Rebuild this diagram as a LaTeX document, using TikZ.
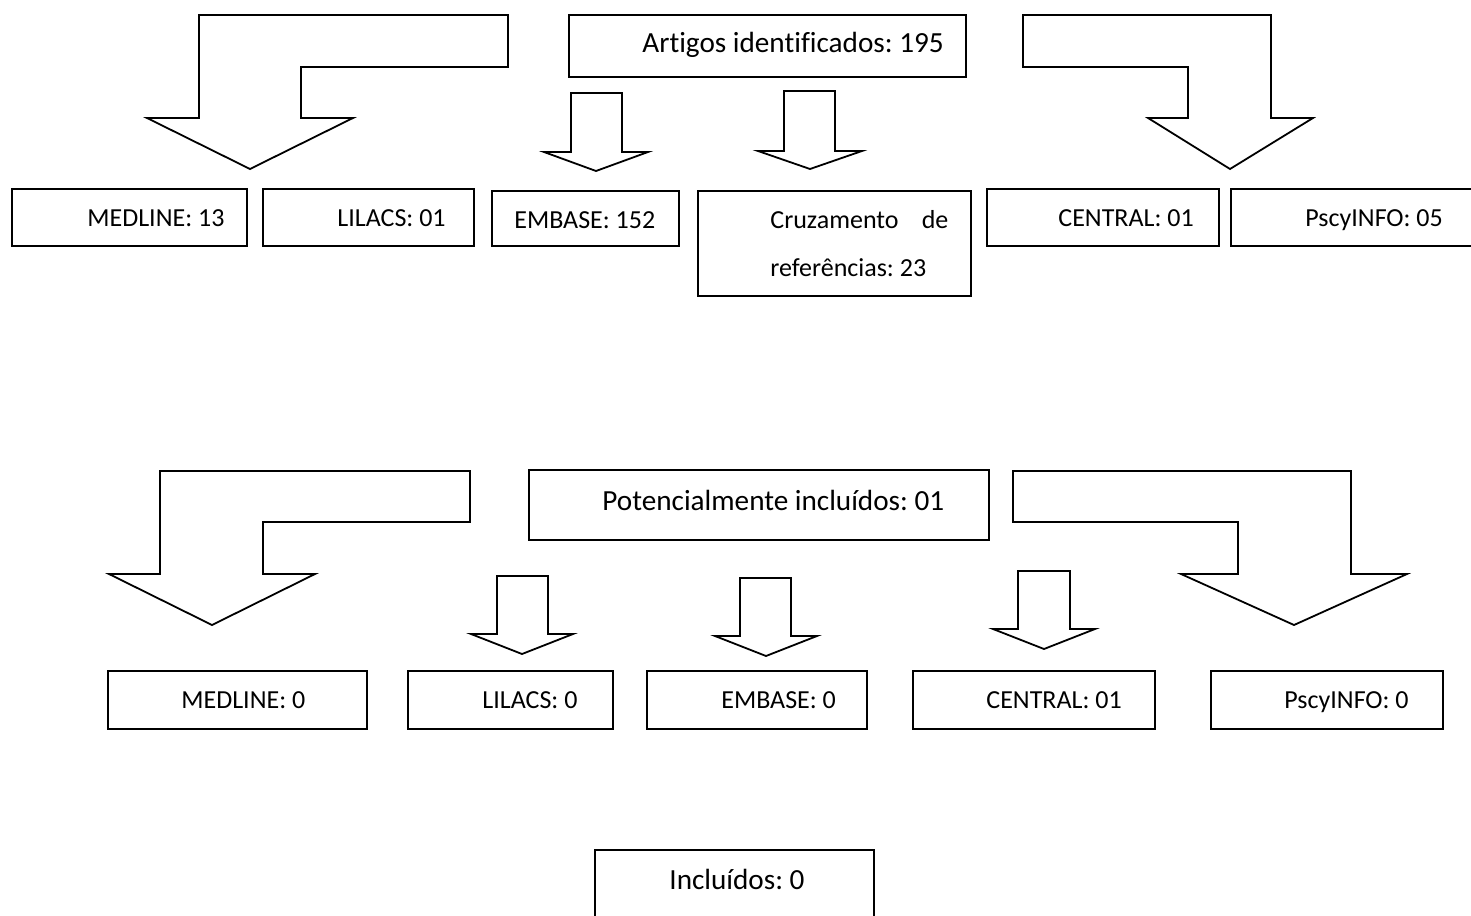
\documentclass[tikz,border=0pt]{standalone}
\usepackage{fontspec}
\setmainfont[Ligatures=NoCommon]{Carlito}
\frenchspacing
\begin{document}
\begin{tikzpicture}[x=0.5pt,y=-0.5pt,
    boxline/.style={draw=black, line width=0.9pt},
    blockarrow/.style={draw=black, line width=0.9pt, line join=miter},
    smalltext/.style={anchor=base west, inner sep=0pt, font=\fontsize{13}{15.6}\selectfont},
    bigtext/.style={anchor=base west, inner sep=0pt, font=\fontsize{14.6}{17.5}\selectfont}]
					\clip (0,0) rectangle (1471,915);
					\fill [white] (0,0) rectangle (1471,915);
					% first level
					\draw [boxline] (569,15) rectangle (966,77);
					\node[bigtext] (artigos) at (642,53) {Artigos identificados: 195};
					\draw [blockarrow] (508,15) -- (199,15) -- (199,118) -- (147,118) -- (250,169) -- (353,118) -- (301,118) -- (301,67) -- (508,67) -- cycle;
					\draw [blockarrow] (1023,15) -- (1271,15) -- (1271,118) -- (1313,118) -- (1230,169) -- (1148,118) -- (1188,118) -- (1188,67) -- (1023,67) -- cycle;
					\draw [blockarrow] (571,93) -- (622,93) -- (622,152) -- (648,152) -- (596,171) -- (544,152) -- (571,152) -- cycle;
					\draw [blockarrow] (784,91) -- (835,91) -- (835,151) -- (862,151) -- (810,169) -- (758,151) -- (784,151) -- cycle;
					% databases
					\draw [boxline] (12,189) rectangle (247,246);
					\draw [boxline] (263,189) rectangle (474,246);
					\draw [boxline] (492,191) rectangle (679,246);
					\draw [boxline] (698,191) rectangle (971,296);
					\draw [boxline] (987,189) rectangle (1219,246);
					\draw [boxline] (1231,189) rectangle (1480,246);
					\node[smalltext] (medA) at (87,226) {MEDLINE: 13};
					\node[smalltext] (lilA) at (337,226) {LILACS: 01};
					\node[smalltext] (embA) at (514,228) {EMBASE: 152};
					\node[smalltext] (cruzA) at (770,228) {\hbox to 89pt{Cruzamento\hfill de}};
					\node[smalltext] (cruzB) at (770,276) {referências: 23};
					\node[smalltext] (cenA) at (1058,226) {CENTRAL: 01};
					\node[smalltext] (psyA) at (1305,226) {PscyINFO: 05};
					% second level
					\draw [boxline] (529,470) rectangle (989,540);
					\node[bigtext] (poten) at (602,510) {Potencialmente incluídos: 01};
					\draw [blockarrow] (470,471) -- (160,471) -- (160,574) -- (109,574) -- (212,625) -- (315,574) -- (263,574) -- (263,522) -- (470,522) -- cycle;
					\draw [blockarrow] (1013,471) -- (1351,471) -- (1351,574) -- (1407,574) -- (1294,625) -- (1181,574) -- (1238,574) -- (1238,522) -- (1013,522) -- cycle;
					\draw [blockarrow] (497,576) -- (548,576) -- (548,634) -- (573,634) -- (522,654) -- (471,634) -- (497,634) -- cycle;
					\draw [blockarrow] (740,578) -- (791,578) -- (791,636) -- (817,636) -- (766,656) -- (715,636) -- (740,636) -- cycle;
					\draw [blockarrow] (1018,571) -- (1070,571) -- (1070,629) -- (1095,629) -- (1044,649) -- (993,629) -- (1018,629) -- cycle;
					\draw [boxline] (108,671) rectangle (367,729);
					\draw [boxline] (408,671) rectangle (613,729);
					\draw [boxline] (647,671) rectangle (867,729);
					\draw [boxline] (913,671) rectangle (1155,729);
					\draw [boxline] (1211,671) rectangle (1443,729);
					\node[smalltext] (medB) at (181,708) {MEDLINE: 0};
					\node[smalltext] (lilB) at (482,708) {LILACS: 0};
					\node[smalltext] (embB) at (721,708) {EMBASE: 0};
					\node[smalltext] (cenB) at (986,708) {CENTRAL: 01};
					\node[smalltext] (psyB) at (1284,708) {PscyINFO: 0};
					% final
					\draw [boxline] (595,850) rectangle (874,945);
					\node[bigtext] (inclu) at (669,889) {Incluídos: 0};
				\end{tikzpicture}
\end{document}
